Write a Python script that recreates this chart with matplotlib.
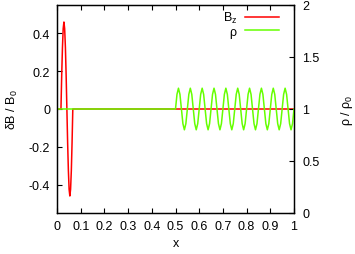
import numpy as np
import matplotlib
matplotlib.use("Agg")
import matplotlib.pyplot as plt

plt.rcParams['font.family'] = ['Liberation Sans', 'DejaVu Sans']
plt.rcParams['mathtext.fontset'] = 'custom'
plt.rcParams['mathtext.rm'] = 'Liberation Sans'
plt.rcParams['mathtext.it'] = 'Liberation Sans'

# Bz: one wave period between x=0.0167 and x=0.0667, zero elsewhere
bz_x = [0.0, 0.0167, 0.0198, 0.0230, 0.0261, 0.0292, 0.0323, 0.0355, 0.0386,
        0.0417, 0.0448, 0.0480, 0.0511, 0.0542, 0.0573, 0.0605, 0.0636, 0.0667, 1.0]
bz_y = [0.0, 0.0, 0.176, 0.325, 0.425, 0.46, 0.425, 0.325, 0.176,
        0.0, -0.176, -0.325, -0.425, -0.46, -0.425, -0.325, -0.176, 0.0, 0.0]

# rho: flat at 1 up to x=0.5, then 10 oscillation periods of amplitude 0.2
rho_period = [1.0, 1.141, 1.2, 1.141, 1.0, 0.859, 0.8, 0.859]
rho_x = [0.0] + [0.5 + 0.00625 * i for i in range(81)]
rho_y = [1.0] + rho_period * 10 + [1.0]

xticks = [0, 0.1, 0.2, 0.3, 0.4, 0.5, 0.6, 0.7, 0.8, 0.9, 1]
xticklabels = ['0', '0.1', '0.2', '0.3', '0.4', '0.5', '0.6', '0.7', '0.8', '0.9', '1']
yticks_left = [-0.4, -0.2, 0, 0.2, 0.4]
yticklabels_left = ['-0.4', '-0.2', '0', '0.2', '0.4']
yticks_right = [0, 0.5, 1, 1.5, 2]
yticklabels_right = ['0', '0.5', '1', '1.5', '2']

fig = plt.figure(figsize=(3.55, 2.55), dpi=100)
ax = fig.add_axes([57/355, 1 - 214/255, (294-57)/355, (214-6)/255])
ax2 = ax.twinx()

fs = 9
lb, = ax.plot(bz_x, bz_y, color='#ff0000', lw=1.1, label=r'B$_\mathrm{z}$')
lr, = ax2.plot(rho_x, rho_y, color='#66ff00', lw=1.1, label=r'$\rho$')

ax.set_xlim(0, 1)
ax.set_ylim(-0.55, 0.55)
ax2.set_ylim(0, 2)

ax.set_xticks(xticks)
ax.set_xticklabels(xticklabels, fontsize=fs)
ax.set_yticks(yticks_left)
ax.set_yticklabels(yticklabels_left, fontsize=fs)
ax2.set_yticks(yticks_right)
ax2.set_yticklabels(yticklabels_right, fontsize=fs)

ax.tick_params(axis='x', direction='in', top=True, length=3.5, width=0.8, pad=5)
ax.tick_params(axis='y', direction='in', length=3.5, width=0.8, pad=5)
ax2.tick_params(axis='y', direction='in', length=3.5, width=0.8, pad=6)
for a in (ax, ax2):
    for s in a.spines.values():
        s.set_linewidth(0.9)

ax.set_xlabel('x', fontsize=fs, labelpad=4)
ax.set_ylabel(r'δB / B$_0$', fontsize=fs, labelpad=6)
ax2.set_ylabel(r'ρ / ρ$_0$', fontsize=fs, labelpad=14)

leg = ax2.legend(handles=[lb, lr], loc='upper right', bbox_to_anchor=(0.937, 0.976),
                 frameon=False, fontsize=fs, markerfirst=False, handlelength=2.7,
                 handletextpad=0.6, labelspacing=0.05, borderaxespad=0.0,
                 borderpad=0.0)
for t in leg.get_texts():
    t.set_ha('right')

fig.savefig('out.png', dpi=100)
